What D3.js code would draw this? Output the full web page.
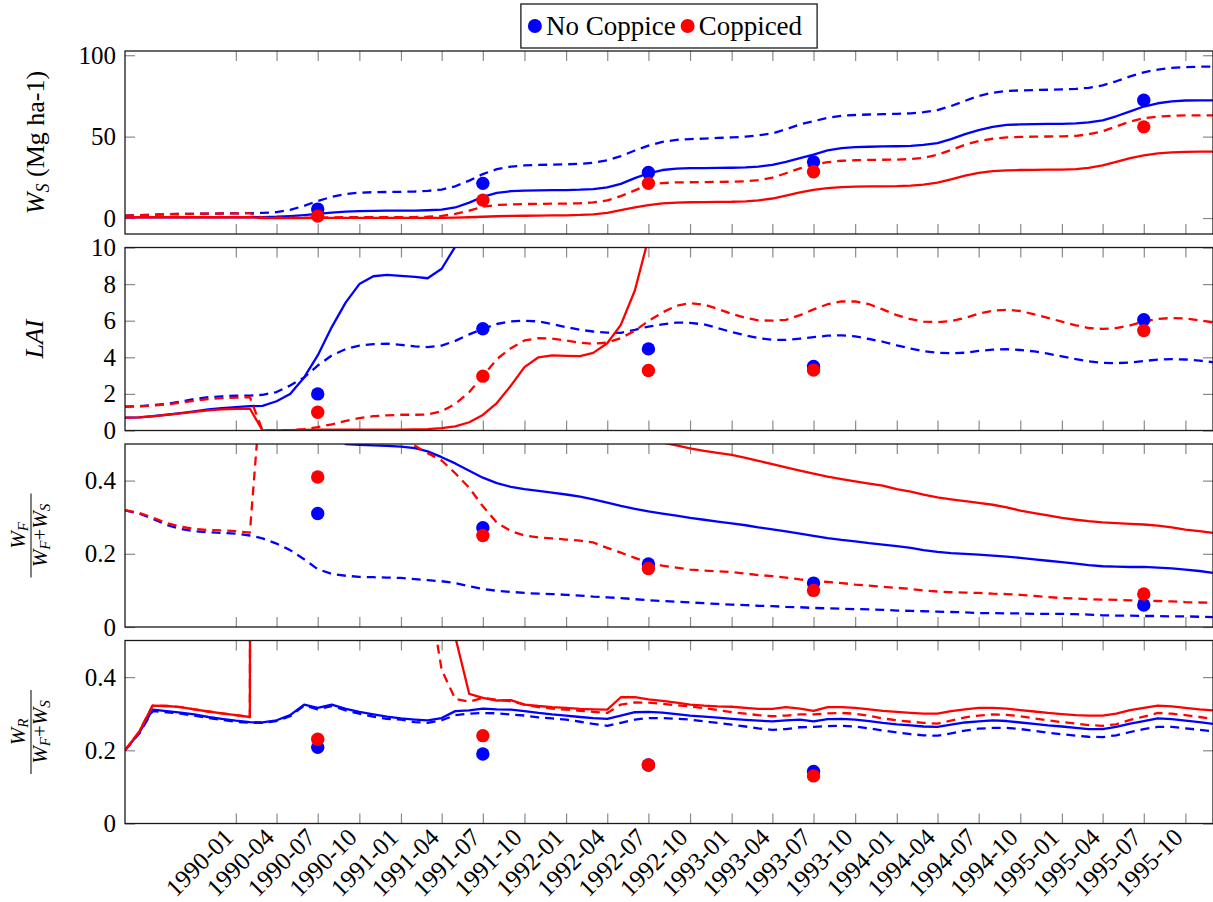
<!DOCTYPE html>
<html>
<head>
<meta charset="utf-8">
<script src="https://cdn.jsdelivr.net/npm/d3@7"></script>
<style>
body { margin: 0; background: #fff; }
svg { display: block; }
</style>
</head>
<body>
<div id="chart"></div>
<script>
// Monthly model output, 1989-05 .. 1995-12 (one value per month)
const firstMonth = "1989-05";
const lastMonth = "1995-12";

// Stem biomass W_S (Mg ha-1)
const wsNoCoppice = [
  0.5, 0.5, 0.5, 0.5, 0.5, 0.5, 0.5, 0.5,
  0.5, 0.5, 0.6, 0.8, 1.2, 1.8, 2.5, 3.3, 4.0, 4.3, 4.4, 4.5,
  4.5, 4.6, 4.8, 5.2, 6.5, 9.5, 13, 15.5, 16.5, 16.9, 17, 17.1,
  17.2, 17.4, 17.8, 18.8, 21, 24.5, 27.5, 29.5, 30.3, 30.6, 30.7, 30.8,
  30.9, 31.1, 31.6, 32.6, 34.5, 36.8, 39, 41.5, 43, 43.6, 43.8, 44,
  44.1, 44.3, 44.9, 46, 48.5, 51.5, 54, 56, 57.2, 57.5, 57.7, 57.8,
  57.9, 58.1, 58.7, 60, 62.5, 65.5, 68.5, 70.5, 71.7, 72.2, 72.3, 72.3
];
const wsNoCoppiceDash = [
  1.5, 1.7, 2.0, 2.3, 2.5, 2.6, 2.7, 2.8,
  2.9, 3.0, 3.2, 3.6, 5.0, 7.5, 10.5, 13, 14.8, 15.6, 15.9, 16.0,
  16.1, 16.3, 16.7, 17.5, 19.5, 23, 27, 30, 31.6, 32.3, 32.6, 32.8,
  33.0, 33.3, 34, 35.5, 38, 41.5, 44.5, 46.8, 48, 48.5, 48.8, 49.2,
  49.5, 50, 50.8, 52, 54.5, 57.5, 59.5, 61.5, 62.8, 63.3, 63.6, 63.8,
  64, 64.3, 65, 66.3, 68.8, 72, 75, 77, 78, 78.4, 78.6, 78.8,
  79, 79.3, 80, 81.5, 84, 87, 89.5, 91.2, 92.2, 92.7, 93, 93
];
const wsCoppiced = [
  0.5, 0.5, 0.5, 0.5, 0.5, 0.5, 0.5, 0.5,
  0.5, 0.5, 0, 0, 0, 0, 0.05, 0.1, 0.1, 0.1, 0.1, 0.1,
  0.1, 0.1, 0.1, 0.15, 0.25, 0.5, 0.8, 1.1, 1.3, 1.4, 1.5, 1.6,
  1.7, 1.9, 2.3, 3.2, 4.8, 6.5, 8, 9, 9.5, 9.7, 9.8, 9.9,
  10, 10.3, 10.9, 12, 13.8, 15.8, 17.3, 18.4, 19, 19.3, 19.4, 19.5,
  19.6, 19.9, 20.5, 21.8, 23.8, 26, 27.8, 28.8, 29.3, 29.5, 29.6, 29.7,
  29.8, 30.1, 30.8, 32.3, 34.5, 36.8, 38.5, 39.7, 40.3, 40.6, 40.8, 40.8
];
const wsCoppicedDash = [
  1.5, 1.7, 2.0, 2.3, 2.5, 2.6, 2.7, 2.8,
  2.9, 3.0, 0.3, 0.2, 0.2, 0.2, 0.3, 0.4, 0.5, 0.5, 0.5, 0.5,
  0.5, 0.6, 0.8, 1.3, 2.5, 4.5, 7, 8, 8.4, 8.6, 8.7, 8.8,
  8.9, 9.1, 9.6, 10.8, 13.5, 17, 20.5, 21.5, 21.9, 22, 22.1, 22.2,
  22.3, 22.6, 23.3, 24.8, 27.5, 30.5, 32.8, 34.3, 35.2, 35.5, 35.7, 35.8,
  35.9, 36.2, 37, 38.8, 41.8, 45, 47.3, 48.7, 49.5, 49.8, 50, 50.1,
  50.2, 50.5, 51.4, 53.3, 56.3, 59.3, 61.3, 62.3, 62.8, 63, 63.1, 63.1
];

// Leaf area index
const laiNoCoppice = [
  0.70, 0.72, 0.78, 0.86, 0.95, 1.05, 1.15, 1.22,
  1.28, 1.33, 1.35, 1.6, 2.0, 2.9, 4.1, 5.65, 7.0, 8.0, 8.43, 8.5,
  8.45, 8.4, 8.32, 8.84, 10.05, null, null, null, null, null, null, null,
  null, null, null, null, null, null, null, null, null, null, null, null,
  null, null, null, null, null, null, null, null, null, null, null, null,
  null, null, null, null, null, null, null, null, null, null, null, null,
  null, null, null, null, null, null, null, null, null, null, null, null
];
const laiNoCoppiceDash = [
  1.31, 1.33, 1.38, 1.46, 1.58, 1.72, 1.82, 1.87,
  1.9, 1.91, 1.95, 2.1, 2.46, 2.9, 3.55, 4.1, 4.45, 4.64, 4.72, 4.74,
  4.68, 4.6, 4.56, 4.64, 4.9, 5.25, 5.56, 5.82, 5.96, 6.0, 5.96, 5.82,
  5.65, 5.5, 5.41, 5.35, 5.34, 5.5, 5.68, 5.8, 5.9, 5.88, 5.8, 5.6,
  5.38, 5.2, 5.05, 4.96, 4.95, 5.02, 5.1, 5.18, 5.2, 5.14, 5.0, 4.85,
  4.65, 4.48, 4.33, 4.25, 4.22, 4.25, 4.35, 4.42, 4.44, 4.4, 4.32, 4.2,
  4.05, 3.9, 3.78, 3.7, 3.68, 3.72, 3.8, 3.87, 3.9, 3.88, 3.82, 3.73
];
const laiCoppiced = [
  0.70, 0.72, 0.77, 0.85, 0.93, 1.02, 1.1, 1.15,
  1.18, 1.2, 0, 0, 0.02, 0.03, 0.04, 0.05, 0.05, 0.05, 0.05, 0.05,
  0.05, 0.06, 0.08, 0.13, 0.22, 0.45, 0.85, 1.5, 2.45, 3.46, 4.0, 4.1,
  4.08, 4.06, 4.24, 4.77, 5.77, 7.65, 10.5, null, null, null, null, null,
  null, null, null, null, null, null, null, null, null, null, null, null,
  null, null, null, null, null, null, null, null, null, null, null, null,
  null, null, null, null, null, null, null, null, null, null, null, null
];
const laiCoppicedDash = [
  1.31, 1.32, 1.36, 1.42, 1.52, 1.62, 1.71, 1.77,
  1.8, 1.82, 0, 0, 0.03, 0.08, 0.18, 0.34, 0.52, 0.68, 0.78, 0.83,
  0.86, 0.86, 0.87, 1.05, 1.45, 2.1, 2.97, 3.9, 4.5, 4.92, 5.05, 5.02,
  4.92, 4.8, 4.74, 4.8, 5.05, 5.45, 5.98, 6.45, 6.82, 6.96, 6.88, 6.65,
  6.37, 6.15, 6.02, 6.0, 6.05, 6.3, 6.62, 6.9, 7.05, 7.05, 6.9, 6.62,
  6.3, 6.08, 5.95, 5.92, 5.98, 6.15, 6.38, 6.55, 6.6, 6.53, 6.35, 6.15,
  5.95, 5.75, 5.6, 5.55, 5.6, 5.75, 5.95, 6.1, 6.15, 6.12, 6.02, 5.9
];

// Foliage fraction W_F / (W_F + W_S)
const wfNoCoppice = [
  null, null, null, null, null, null, null, null,
  null, null, null, null, null, null, null, 0.53, 0.5, 0.498, 0.496, 0.495,
  0.493, 0.489, 0.48, 0.464, 0.447, 0.427, 0.408, 0.393, 0.383, 0.377, 0.372, 0.367,
  0.362, 0.356, 0.349, 0.34, 0.331, 0.323, 0.316, 0.31, 0.304, 0.298, 0.293, 0.288,
  0.283, 0.278, 0.272, 0.267, 0.261, 0.255, 0.249, 0.243, 0.238, 0.234, 0.229, 0.225,
  0.221, 0.216, 0.21, 0.205, 0.202, 0.2, 0.198, 0.195, 0.192, 0.189, 0.185, 0.181,
  0.177, 0.173, 0.169, 0.166, 0.165, 0.164, 0.164, 0.162, 0.16, 0.157, 0.153, 0.148
];
const wfNoCoppiceDash = [
  0.319, 0.31, 0.296, 0.279, 0.268, 0.262, 0.259, 0.257,
  0.255, 0.25, 0.242, 0.228, 0.21, 0.185, 0.158, 0.145, 0.14, 0.137, 0.136, 0.135,
  0.134, 0.131, 0.128, 0.125, 0.12, 0.111, 0.104, 0.099, 0.096, 0.093, 0.091, 0.09,
  0.088, 0.086, 0.083, 0.081, 0.079, 0.076, 0.073, 0.071, 0.069, 0.067, 0.065, 0.063,
  0.061, 0.06, 0.058, 0.057, 0.055, 0.054, 0.052, 0.051, 0.05, 0.049, 0.048, 0.047,
  0.045, 0.044, 0.043, 0.042, 0.041, 0.04, 0.038, 0.038, 0.037, 0.037, 0.036, 0.036,
  0.036, 0.035, 0.034, 0.032, 0.031, 0.031, 0.03, 0.03, 0.029, 0.029, 0.028, 0.027
];
const wfCoppiced = [
  null, null, null, null, null, null, null, null,
  null, null, null, null, null, null, null, null, null, null, null, null,
  null, null, null, null, null, null, null, null, null, null, null, null,
  null, null, null, null, null, null, 0.52, 0.504, 0.496, 0.488, 0.481, 0.476,
  0.47, 0.462, 0.454, 0.445, 0.436, 0.427, 0.419, 0.411, 0.404, 0.398, 0.392, 0.386,
  0.377, 0.37, 0.362, 0.354, 0.349, 0.344, 0.339, 0.334, 0.327, 0.318, 0.311, 0.305,
  0.298, 0.293, 0.289, 0.286, 0.284, 0.282, 0.28, 0.277, 0.272, 0.266, 0.262, 0.257
];
const wfCoppicedDash = [
  0.319, 0.312, 0.299, 0.284, 0.274, 0.268, 0.265, 0.264,
  0.262, 0.258, 0.7, null, null, null, null, null, null, null, null, null,
  0.515, 0.495, 0.475, 0.455, 0.42, 0.38, 0.33, 0.285, 0.262, 0.25, 0.245, 0.242,
  0.239, 0.236, 0.231, 0.216, 0.203, 0.189, 0.175, 0.168, 0.162, 0.157, 0.154, 0.152,
  0.15, 0.146, 0.142, 0.139, 0.135, 0.13, 0.126, 0.123, 0.12, 0.116, 0.113, 0.11,
  0.107, 0.104, 0.1, 0.097, 0.095, 0.094, 0.093, 0.091, 0.09, 0.088, 0.085, 0.082,
  0.079, 0.078, 0.076, 0.075, 0.074, 0.073, 0.072, 0.071, 0.07, 0.068, 0.067, 0.066
];

// Root fraction W_R / (W_F + W_S)
const wrNoCoppice = [
  0.2, 0.247, 0.311, 0.307, 0.303, 0.298, 0.291, 0.286,
  0.281, 0.277, 0.276, 0.282, 0.296, 0.325, 0.316, 0.325, 0.313, 0.305, 0.298, 0.292,
  0.287, 0.284, 0.282, 0.288, 0.307, 0.309, 0.314, 0.312, 0.311, 0.307, 0.302, 0.298,
  0.295, 0.291, 0.288, 0.286, 0.295, 0.304, 0.305, 0.303, 0.299, 0.295, 0.292, 0.289,
  0.286, 0.283, 0.281, 0.279, 0.282, 0.284, 0.279, 0.285, 0.286, 0.284, 0.28, 0.275,
  0.271, 0.268, 0.265, 0.264, 0.27, 0.276, 0.279, 0.282, 0.28, 0.276, 0.272, 0.268,
  0.265, 0.261, 0.258, 0.258, 0.264, 0.273, 0.28, 0.287, 0.285, 0.281, 0.277, 0.272
];
const wrNoCoppiceDash = [
  0.2, 0.245, 0.307, 0.304, 0.3, 0.295, 0.288, 0.283,
  0.278, 0.275, 0.275, 0.28, 0.293, 0.322, 0.312, 0.321, 0.309, 0.3, 0.292, 0.286,
  0.284, 0.277, 0.275, 0.282, 0.296, 0.3, 0.302, 0.301, 0.298, 0.295, 0.29, 0.287,
  0.284, 0.278, 0.272, 0.267, 0.275, 0.284, 0.288, 0.288, 0.286, 0.284, 0.279, 0.275,
  0.27, 0.265, 0.26, 0.256, 0.258, 0.263, 0.264, 0.266, 0.267, 0.265, 0.26, 0.254,
  0.249, 0.244, 0.241, 0.24, 0.246, 0.254, 0.259, 0.261, 0.261, 0.258, 0.253, 0.248,
  0.244, 0.24, 0.237, 0.236, 0.241, 0.25, 0.258, 0.264, 0.264, 0.26, 0.256, 0.252
];
const wrCoppiced = [
  0.2, 0.25, 0.322, 0.321, 0.318, 0.312, 0.306, 0.301,
  0.296, 0.291, 20, null, null, null, null, null, null, null, null, null,
  null, null, null, null, 0.51, 0.354, 0.343, 0.336, 0.337, 0.325, 0.321, 0.318,
  0.316, 0.313, 0.312, 0.311, 0.345, 0.345, 0.339, 0.335, 0.33, 0.325, 0.322, 0.32,
  0.319, 0.316, 0.313, 0.313, 0.318, 0.314, 0.308, 0.318, 0.318, 0.316, 0.312, 0.308,
  0.305, 0.302, 0.3, 0.3, 0.307, 0.312, 0.316, 0.316, 0.314, 0.31, 0.306, 0.302,
  0.299, 0.296, 0.295, 0.295, 0.3, 0.31, 0.316, 0.322, 0.32, 0.316, 0.312, 0.309
];
const wrCoppicedDash = [
  0.2, 0.25, 0.322, 0.321, 0.318, 0.312, 0.306, 0.301,
  0.296, 0.291, 20, null, null, null, null, null, null, null, null, null,
  null, null, 0.65, 0.42, 0.34, 0.333, 0.343, 0.338, 0.334, 0.325, 0.318, 0.314,
  0.311, 0.308, 0.305, 0.302, 0.325, 0.331, 0.33, 0.327, 0.323, 0.32, 0.315, 0.31,
  0.304, 0.3, 0.296, 0.293, 0.295, 0.298, 0.298, 0.301, 0.302, 0.3, 0.294, 0.287,
  0.282, 0.278, 0.275, 0.273, 0.281, 0.29, 0.295, 0.298, 0.297, 0.293, 0.287, 0.282,
  0.277, 0.273, 0.269, 0.267, 0.271, 0.283, 0.292, 0.302, 0.3, 0.296, 0.291, 0.286
];

// Field observations (dots)
const obsDates = ["1990-07-01", "1991-07-01", "1992-07-01", "1993-07-01", "1995-07-01"];
const wsObsNoCoppice = [5.5, 21.3, 28, 34.5, 72.4];
const wsObsCoppiced = [1.2, 11, 21.3, 28.4, 56];
const laiObsNoCoppice = [2.0, 5.56, 4.46, 3.5, 6.05];
const laiObsCoppiced = [1.0, 2.97, 3.28, 3.3, 5.46];
const wfObsNoCoppice = [0.31, 0.271, 0.172, 0.12, 0.06];
const wfObsCoppiced = [0.41, 0.25, 0.16, 0.10, 0.09];
const wrObsNoCoppice = [0.208, 0.19, 0.16, 0.142, null];
const wrObsCoppiced = [0.23, 0.24, 0.16, 0.13, null];

const xTickLabels = [
  "1990-01", "1990-04", "1990-07", "1990-10", "1991-01", "1991-04", "1991-07", "1991-10",
  "1992-01", "1992-04", "1992-07", "1992-10", "1993-01", "1993-04", "1993-07", "1993-10",
  "1994-01", "1994-04", "1994-07", "1994-10", "1995-01", "1995-04", "1995-07", "1995-10"
];
const legendLabels = ["No Coppice", "Coppiced"];
const legendColors = ["#0000ff", "#ff0000"];

// ---------------------------------------------------------------
const serif = "'Liberation Serif', 'DejaVu Serif', serif";
const width = 1213, height = 902;
const plotLeft = 125, plotRight = 1213;
const panelTops = [51, 247.5, 444, 640.5];
const panelHeight = 183;

const parseMonth = d3.utcParse("%Y-%m");
const parseDay = d3.utcParse("%Y-%m-%d");
const months = d3.utcMonth.range(parseMonth(firstMonth), d3.utcMonth.offset(parseMonth(lastMonth), 1));

const x = d3.scaleUtc()
  .domain([parseMonth(firstMonth), parseMonth(lastMonth)])
  .range([plotLeft, plotRight]);

const svg = d3.select("#chart")
  .append("svg")
  .attr("width", width)
  .attr("height", height)
  .attr("font-family", serif);

const blue = "#0000ff", red = "#ff0000";
const dashStyle = "9,6";

const panels = [
  {domain: [-9.8, 102.6], ticks: [0, 50, 100],
   lines: [[wsNoCoppiceDash, blue, true], [wsNoCoppice, blue, false], [wsCoppicedDash, red, true], [wsCoppiced, red, false]],
   obs: [[wsObsNoCoppice, blue], [wsObsCoppiced, red]]},
  {domain: [0, 10], ticks: [0, 2, 4, 6, 8, 10],
   lines: [[laiNoCoppiceDash, blue, true], [laiNoCoppice, blue, false], [laiCoppicedDash, red, true], [laiCoppiced, red, false]],
   obs: [[laiObsNoCoppice, blue], [laiObsCoppiced, red]]},
  {domain: [0, 0.5], ticks: [0, 0.2, 0.4],
   lines: [[wfNoCoppiceDash, blue, true], [wfNoCoppice, blue, false], [wfCoppicedDash, red, true], [wfCoppiced, red, false]],
   obs: [[wfObsNoCoppice, blue], [wfObsCoppiced, red]]},
  {domain: [0, 0.5], ticks: [0, 0.2, 0.4],
   lines: [[wrNoCoppiceDash, blue, true], [wrNoCoppice, blue, false], [wrCoppicedDash, red, true], [wrCoppiced, red, false]],
   obs: [[wrObsNoCoppice, blue], [wrObsCoppiced, red]]}
];

const xTickDates = xTickLabels.map(parseMonth);

function styleAxis(g) {
  g.select(".domain").remove();
  g.selectAll(".tick line").attr("stroke", "#8a8a8a").attr("stroke-width", 1.2);
  g.attr("font-family", serif).attr("font-size", 25);
  g.selectAll(".tick text").attr("fill", "#000");
}

panels.forEach((p, pi) => {
  const top = panelTops[pi];
  const bottom = top + panelHeight;
  const y = d3.scaleLinear().domain(p.domain).range([bottom, top]);

  svg.append("clipPath")
    .attr("id", "clip" + pi)
    .append("rect")
    .attr("x", plotLeft).attr("y", top)
    .attr("width", plotRight - plotLeft).attr("height", panelHeight);

  // axes with inward ticks on all four sides
  svg.append("g")
    .attr("transform", `translate(${plotLeft},0)`)
    .call(d3.axisLeft(y).tickValues(p.ticks).tickSizeInner(-10).tickSizeOuter(0).tickPadding(9).tickFormat(d => String(d)))
    .call(styleAxis);
  svg.append("g")
    .attr("transform", `translate(${plotRight},0)`)
    .call(d3.axisRight(y).tickValues(p.ticks).tickSizeInner(-10).tickSizeOuter(0).tickFormat(""))
    .call(styleAxis);
  svg.append("g")
    .attr("transform", `translate(0,${top})`)
    .call(d3.axisTop(x).tickValues(xTickDates).tickSizeInner(-10).tickSizeOuter(0).tickFormat(""))
    .call(styleAxis);
  svg.append("g")
    .attr("transform", `translate(0,${bottom})`)
    .call(d3.axisBottom(x).tickValues(xTickDates).tickSizeInner(-10).tickSizeOuter(0).tickFormat(""))
    .call(styleAxis);

  const plot = svg.append("g").attr("clip-path", `url(#clip${pi})`);

  const line = d3.line()
    .defined(d => d[1] != null)
    .x(d => x(d[0]))
    .y(d => y(d[1]));

  p.lines.forEach(([values, color, dashed]) => {
    plot.append("path")
      .datum(months.map((m, i) => [m, values[i]]))
      .attr("fill", "none")
      .attr("stroke", color)
      .attr("stroke-width", 2.3)
      .attr("stroke-linejoin", "round")
      .attr("stroke-dasharray", dashed ? dashStyle : null)
      .attr("d", line);
  });

  p.obs.forEach(([values, color]) => {
    plot.selectAll(null)
      .data(obsDates.map((d, i) => [parseDay(d), values[i]]).filter(d => d[1] != null))
      .enter().append("circle")
      .attr("cx", d => x(d[0]))
      .attr("cy", d => y(d[1]))
      .attr("r", 6.7)
      .attr("fill", color);
  });

  svg.append("rect")
    .attr("x", plotLeft).attr("y", top)
    .attr("width", plotRight - plotLeft).attr("height", panelHeight)
    .attr("fill", "none")
    .attr("stroke", "#1a1a1a")
    .attr("stroke-width", 1.3);
});

// rotated date labels under the last panel
svg.append("g")
  .attr("font-size", 25)
  .selectAll("text")
  .data(xTickLabels)
  .enter().append("text")
  .attr("transform", d => `translate(${x(parseMonth(d)) - 1},839) rotate(-45)`)
  .attr("text-anchor", "end")
  .text(d => d);

// y axis titles
const ws = svg.append("text")
  .attr("transform", `translate(44,${panelTops[0] + panelHeight / 2}) rotate(-90)`)
  .attr("text-anchor", "middle")
  .attr("font-size", 26)
  .style("white-space", "pre");
ws.append("tspan").attr("font-style", "italic").text("W");
ws.append("tspan").attr("font-style", "italic").attr("font-size", 18).attr("dy", 5).text("S");
ws.append("tspan").attr("dy", -5).text(" (Mg ha-1)");

svg.append("text")
  .attr("transform", `translate(43,${panelTops[1] + panelHeight / 2}) rotate(-90)`)
  .attr("text-anchor", "middle")
  .attr("font-size", 26)
  .attr("font-style", "italic")
  .text("LAI");

function fraction(cy, numSub) {
  const g = svg.append("g").attr("transform", `translate(31,${cy}) rotate(-90)`);
  g.append("line").attr("x1", -42).attr("x2", 42).attr("stroke", "#000").attr("stroke-width", 1);
  const num = g.append("text").attr("y", -6).attr("text-anchor", "middle").attr("font-size", 21);
  num.append("tspan").attr("font-style", "italic").text("W");
  num.append("tspan").attr("font-style", "italic").attr("font-size", 15).attr("dy", 3).text(numSub);
  const den = g.append("text").attr("y", 16).attr("text-anchor", "middle").attr("font-size", 21);
  den.append("tspan").attr("font-style", "italic").text("W");
  den.append("tspan").attr("font-style", "italic").attr("font-size", 15).attr("dy", 3).text("F");
  den.append("tspan").attr("dy", -3).text("+");
  den.append("tspan").attr("font-style", "italic").text("W");
  den.append("tspan").attr("font-style", "italic").attr("font-size", 15).attr("dy", 3).text("S");
}
fraction(panelTops[2] + panelHeight / 2, "F");
fraction(panelTops[3] + panelHeight / 2, "R");

// legend
const legend = svg.append("g").attr("font-size", 27);
let cursor = 0;
legendLabels.forEach((label, i) => {
  legend.append("circle").attr("cx", cursor + 14).attr("cy", 26).attr("r", 7).attr("fill", legendColors[i]);
  const t = legend.append("text").attr("x", cursor + 25).attr("y", 35).text(label);
  cursor += 25 + t.node().getComputedTextLength() - 2;
});
const legendWidth = cursor + 17;
legend.insert("rect", ":first-child")
  .attr("x", 0).attr("y", 4)
  .attr("width", legendWidth).attr("height", 44)
  .attr("fill", "#fff").attr("stroke", "#1a1a1a").attr("stroke-width", 1.3);
legend.attr("transform", `translate(${669 - legendWidth / 2},0)`);
</script>
</body>
</html>
